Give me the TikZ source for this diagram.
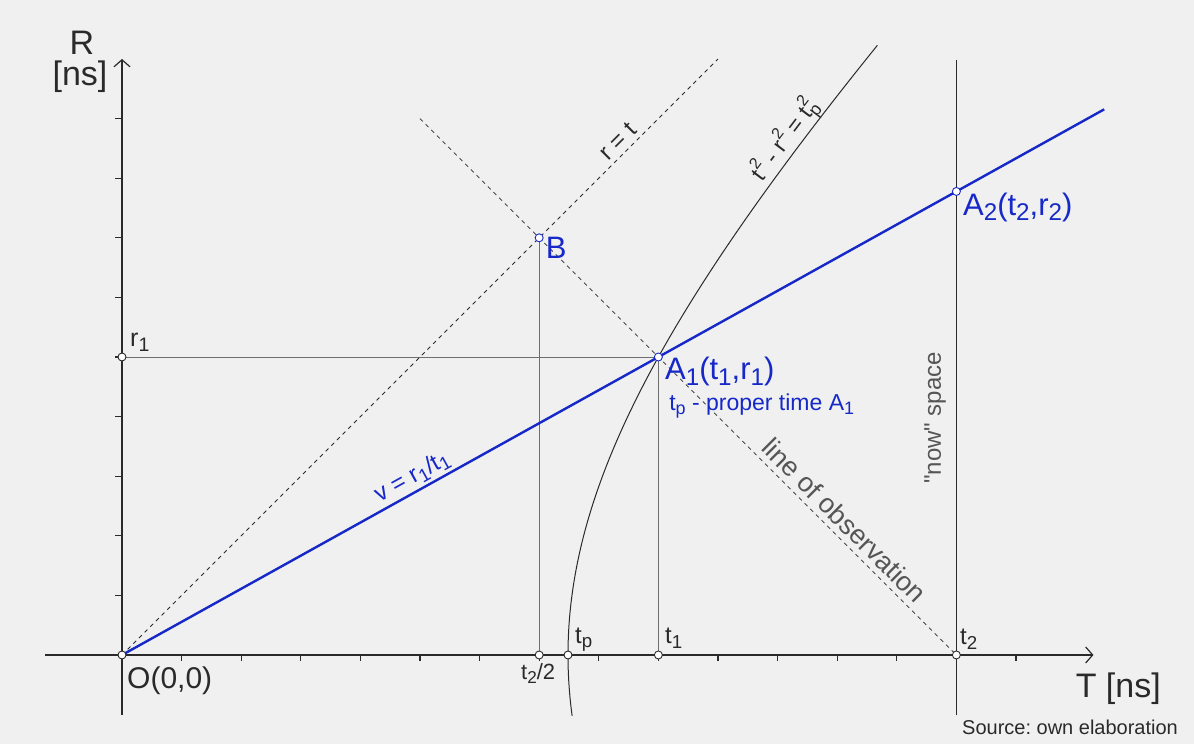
\documentclass[tikz,border=0pt]{standalone}
\usepackage{fontspec}
\usepackage{graphicx}
\setmainfont{Liberation Sans}
\newfontfamily\plainq{Liberation Sans}
\usetikzlibrary{arrows.meta}
\definecolor{bg}{HTML}{F0F0F0}
\definecolor{bl}{RGB}{22,40,200}
\definecolor{ax}{HTML}{2A2A2A}
\definecolor{gl}{HTML}{6E6E6E}
\definecolor{gt}{HTML}{555555}
\newcommand\fsz[1]{\fontsize{#1}{#1}\selectfont}
\newcommand\sbs[1]{\raisebox{-0.35ex}{\scalebox{0.78}{#1}}}
\newcommand\sps[1]{\raisebox{0.95ex}{\scalebox{0.7}{#1}}}
\frenchspacing
\begin{document}
\begin{tikzpicture}[x=59.6pt,y=59.6pt,
  axisline/.style={draw=ax, line width=1.2pt},
  tickline/.style={draw=ax, line width=1.1pt},
  guide/.style={draw=gl, line width=0.8pt},
  dashline/.style={draw=ax, line width=0.8pt, dash pattern=on 4pt off 4pt},
  curve/.style={draw=ax, line width=1pt},
  nowline/.style={draw=ax, line width=1.1pt},
  worldline/.style={draw=bl, line width=2.4pt},
  pnt/.style={circle, draw=ax, fill=white, line width=0.9pt, inner sep=0pt, minimum size=8pt},
  bpnt/.style={pnt, draw=bl},
  lbl/.style={text=ax, inner sep=0pt},
  blbl/.style={text=bl, inner sep=0pt},
  glbl/.style={text=gt, inner sep=0pt},
  tip/.style={-{Straight Barb[length=7pt,width=16pt,line width=1.2pt]}}
]
\fill[bg] (-2.047,-1.493) rectangle (17.987,10.990);
\useasboundingbox (-2.047,-1.493) rectangle (17.987,10.990);

% coordinates
\coordinate (cO) at (0,0);
\coordinate (cT1) at (9,0);
\coordinate (cTP) at ({sqrt(56)},0);
\coordinate (cTH) at (7,0);
\coordinate (cT2) at (14,0);
\coordinate (cR1) at (0,5);
\coordinate (cB) at (7,7);
\coordinate (cA1) at (9,5);
\coordinate (cA2) at (14,{70/9});
\coordinate (xs) at (-1.29,0);
\coordinate (xe) at (16.3,0);
\coordinate (ys) at (0,-1.01);
\coordinate (ye) at (0,10);
\coordinate (nowb) at (14,-1.01);
\coordinate (nowt) at (14,9.98);
\coordinate (lc) at (10,10);
\coordinate (obs) at (5,9);
\coordinate (vend) at (16.48,{16.48*5/9});

% guide lines
\draw[guide] (cR1) -- (cA1) -- (cT1);
\draw[guide] (cB) -- (cTH);
% dashed lines
\draw[dashline] (cO) -- (lc);
\draw[dashline] (obs) -- (cT2);
% hyperbola
\draw[curve] plot[domain=-1.02:10.23, samples=150, variable=\q] ({sqrt(56+\q*\q)},\q);
% now line
\draw[nowline] (nowb) -- (nowt);
% axes
\draw[axisline, tip] (xs) -- (xe);
\draw[axisline, tip] (ys) -- (ye);
\foreach \i in {1,...,15} \draw[tickline] (\i,0) -- (\i,-0.1);
\foreach \j in {1,...,9} \draw[tickline] (0,\j) -- (-0.12,\j);
% world line
\draw[worldline] (cO) -- (vend);

% points
\node[pnt] (O) at (cO) {};
\node[pnt] (T1) at (cT1) {};
\node[pnt] (TP) at (cTP) {};
\node[pnt] (TH) at (cTH) {};
\node[pnt] (T2) at (cT2) {};
\node[pnt] (R1) at (cR1) {};
\node[bpnt] (B) at (cB) {};
\node[bpnt] (A1) at (cA1) {};
\node[bpnt] (A2) at (cA2) {};

% axis labels
\node[lbl, font=\fsz{34}] (Rl) at (-0.671,10.268) {R};
\node[lbl, font=\fsz{34}] (Rns) at (-0.705,9.698) {[ns]};
\node[lbl, font=\fsz{34}, anchor=base west] (Tl) at (16.0,-0.705) {T [ns]};
\node[lbl, font=\fsz{30}, anchor=base west] (Ol) at (0.084,-0.554) {O(0,0)};
\node[lbl, font=\fsz{20}, anchor=base west] (src) at (14.094,-1.326) {Source: own elaboration};

% point labels
\node[lbl, font=\fsz{22}, anchor=base west] (thl) at (6.695,-0.403) {t\sbs{2}/2};
\node[lbl, font=\fsz{24}, anchor=base west] (tpl) at (7.60,0.20) {t\sbs{p}};
\node[lbl, font=\fsz{24}, anchor=base west] (t1l) at (9.11,0.19) {t\sbs{1}};
\node[lbl, font=\fsz{24}, anchor=base west] (t2l) at (14.06,0.168) {t\sbs{2}};
\node[lbl, font=\fsz{25}, anchor=base west] (r1l) at (0.134,5.17) {r\sbs{1}};
\node[blbl, font=\fsz{31}, anchor=base west] (Bl) at (7.11,6.66) {B};
\node[blbl, font=\fsz{31}, anchor=base west] (A1l) at (9.11,4.614) {A\sbs{1}(t\sbs{1},r\sbs{1})};
\node[blbl, font=\fsz{23}, anchor=base west] (tpd) at (9.18,4.11) {t\sbs{p} - proper time A\sbs{1}};
\node[blbl, font=\fsz{31}, anchor=base west] (A2l) at (14.11,7.38) {A\sbs{2}(t\sbs{2},r\sbs{2})};

% line labels
\node[blbl, font=\fsz{24}, rotate=29.05] (vl) at (4.866,2.987) {v = r\sbs{1}/t\sbs{1}};
\node[lbl, font=\fsz{24}, rotate=45] (rtl) at (8.32,8.62) {r = t};
\node[lbl, font=\fsz{23}, rotate=53] (hyl) at (11.124,8.641) {t\sps{2} - r\sps{2} = t\rlap{\sps{2}}\sbs{p}};
\node[glbl, font=\fsz{27}, rotate=-45] (obl) at (12.12,2.26) {line of observation};
\node[glbl, font=\fsz{24}, rotate=90] (nwl) at (13.641,3.977) {{\plainq"}now{\plainq"} space};
\end{tikzpicture}
\end{document}
